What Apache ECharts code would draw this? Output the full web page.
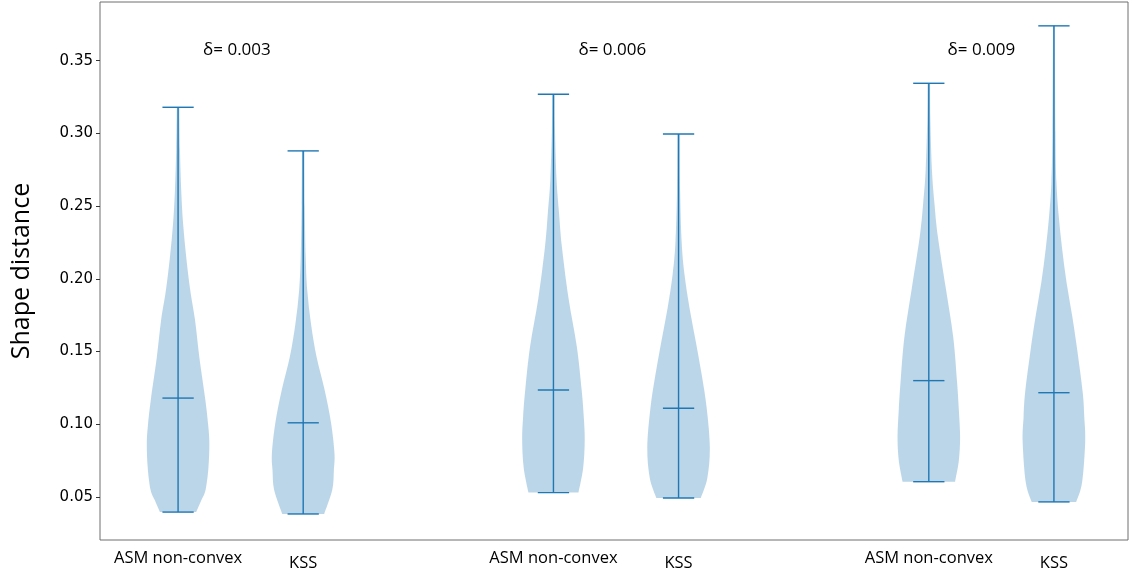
<!DOCTYPE html>
<html>
<head>
<meta charset="utf-8">
<script src="https://cdn.jsdelivr.net/npm/echarts@6/dist/echarts.min.js"></script>
<style>
  html, body { margin: 0; padding: 0; background: #fff; }
  #main { width: 1133px; height: 574px; }
</style>
</head>
<body>
<div id="main"></div>
<script>
// violin positions and labels
const positions = [1, 2, 4, 5, 7, 8]
const groupNames = ["ASM non-convex", "KSS", "ASM non-convex", "KSS", "ASM non-convex", "KSS"]
const mins = [0.0396, 0.0383, 0.053, 0.0493, 0.0605, 0.0466]
const maxs = [0.318, 0.288, 0.327, 0.2996, 0.3345, 0.374]
const medians = [0.118, 0.101, 0.1236, 0.111, 0.130, 0.1217]

// density profiles: value levels and relative half widths
const v1Y = [0.0396, 0.048, 0.055, 0.07, 0.087, 0.10, 0.117, 0.146, 0.172, 0.192, 0.215, 0.238, 0.261, 0.289, 0.318]
const v1W = [0.58, 0.75, 0.88, 0.97, 1.0, 0.96, 0.87, 0.68, 0.54, 0.39, 0.26, 0.16, 0.10, 0.06, 0.04]
const v2Y = [0.0383, 0.055, 0.068, 0.080, 0.101, 0.124, 0.146, 0.169, 0.192, 0.215, 0.25, 0.288]
const v2W = [0.67, 0.93, 0.98, 1.0, 0.89, 0.68, 0.43, 0.25, 0.13, 0.08, 0.05, 0.04]
const v3Y = [0.053, 0.07, 0.089, 0.105, 0.124, 0.153, 0.187, 0.222, 0.245, 0.268, 0.302, 0.327]
const v3W = [0.8, 0.95, 1.0, 0.97, 0.9, 0.75, 0.48, 0.27, 0.18, 0.1, 0.05, 0.04]
const v4Y = [0.0493, 0.063, 0.084, 0.111, 0.134, 0.157, 0.18, 0.203, 0.225, 0.26, 0.2996]
const v4W = [0.71, 0.92, 1.0, 0.9, 0.74, 0.55, 0.35, 0.19, 0.1, 0.05, 0.04]
const v5Y = [0.0605, 0.075, 0.091, 0.110, 0.130, 0.16, 0.194, 0.229, 0.252, 0.275, 0.309, 0.3345]
const v5W = [0.84, 0.96, 1.0, 0.96, 0.9, 0.78, 0.54, 0.29, 0.18, 0.1, 0.05, 0.04]
const v6Y = [0.0466, 0.06, 0.088, 0.105, 0.122, 0.152, 0.175, 0.198, 0.221, 0.244, 0.267, 0.30, 0.374]
const v6W = [0.71, 0.9, 1.0, 0.97, 0.92, 0.74, 0.58, 0.40, 0.26, 0.15, 0.08, 0.05, 0.03]
const profilesY = [v1Y, v2Y, v3Y, v4Y, v5Y, v6Y]
const profilesW = [v1W, v2W, v3W, v4W, v5W, v6W]

// delta annotations
const deltaX = [1.2, 4.2, 7.15]
const deltaY = [0.357, 0.357, 0.357]
const deltaLabels = ["δ= 0.003", "δ= 0.006", "δ= 0.009"]

const yTicks = [0.05, 0.10, 0.15, 0.20, 0.25, 0.30, 0.35]

const blue = "#1f77b4"
const halfWidth = 0.25
const capHalf = 0.125

// catmull-rom through pixel points -> bezier path segments
function smoothSide(pts, start) {
  let d = start ? "M" + pts[0][0] + "," + pts[0][1] : "L" + pts[0][0] + "," + pts[0][1]
  for (let k = 0; k < pts.length - 1; k++) {
    let p0 = pts[k - 1] || pts[k]
    let p1 = pts[k]
    let p2 = pts[k + 1]
    let p3 = pts[k + 2] || p2
    let c1 = [p1[0] + (p2[0] - p0[0]) / 6, p1[1] + (p2[1] - p0[1]) / 6]
    let c2 = [p2[0] - (p3[0] - p1[0]) / 6, p2[1] - (p3[1] - p1[1]) / 6]
    d += "C" + c1[0] + "," + c1[1] + " " + c2[0] + "," + c2[1] + " " + p2[0] + "," + p2[1]
  }
  return d
}

let chart = echarts.init(document.getElementById("main"))

chart.setOption({
  animation: false,
  grid: {
    left: 100,
    right: 5,
    top: 2,
    bottom: 34,
    outerBoundsMode: "none",
    containLabel: false,
    show: true,
    borderColor: "#6e6e6e",
    borderWidth: 1
  },
  xAxis: {
    type: "value",
    min: 0.376,
    max: 8.592,
    splitLine: { show: false },
    axisLine: { show: false },
    axisTick: { show: false },
    axisLabel: {
      customValues: positions,
      formatter: (v) => {
        let i = positions.indexOf(v)
        return i % 2 === 0 ? "{a|" + groupNames[i] + "}" : "{b|" + groupNames[i] + "}"
      },
      margin: 10,
      rich: {
        a: { fontFamily: "Open Sans", fontSize: 16.5, color: "#000" },
        b: { fontFamily: "Open Sans", fontSize: 16.5, color: "#000", padding: [5, 0, 0, 0] }
      }
    }
  },
  yAxis: {
    type: "value",
    min: 0.0204,
    max: 0.3904,
    name: "Shape distance",
    nameLocation: "middle",
    nameGap: 66,
    nameTextStyle: { fontFamily: "Open Sans", fontSize: 25, color: "#000" },
    splitLine: { show: false },
    axisLine: { show: false },
    axisTick: {
      show: true,
      customValues: yTicks,
      length: 4,
      lineStyle: { color: "#333" }
    },
    axisLabel: {
      customValues: yTicks,
      formatter: (v) => v.toFixed(2),
      fontFamily: "DejaVu Sans",
      fontSize: 15,
      color: "#000",
      margin: 7
    }
  },
  series: [
    {
      type: "custom",
      renderItem: (params, api) => {
        let i = params.dataIndex
        let x = positions[i]
        let ys = profilesY[i]
        let ws = profilesW[i]
        let left = [], right = []
        for (let k = 0; k < ys.length; k++) left.push(api.coord([x - ws[k] * halfWidth, ys[k]]))
        for (let k = ys.length - 1; k >= 0; k--) right.push(api.coord([x + ws[k] * halfWidth, ys[k]]))
        let d = smoothSide(left, true) + smoothSide(right, false) + "Z"
        let line = (a, b) => ({
          type: "line",
          shape: { x1: a[0], y1: a[1], x2: b[0], y2: b[1] },
          style: { stroke: blue, lineWidth: 1.4 }
        })
        return {
          type: "group",
          children: [
            {
              type: "path",
              shape: { pathData: d },
              style: { fill: "rgba(31,119,180,0.3)", stroke: "none" }
            },
            line(api.coord([x, mins[i]]), api.coord([x, maxs[i]])),
            line(api.coord([x - capHalf, mins[i]]), api.coord([x + capHalf, mins[i]])),
            line(api.coord([x - capHalf, maxs[i]]), api.coord([x + capHalf, maxs[i]])),
            line(api.coord([x - capHalf, medians[i]]), api.coord([x + capHalf, medians[i]]))
          ]
        }
      },
      data: positions.map((p, i) => [p, medians[i]])
    },
    {
      type: "custom",
      renderItem: (params, api) => {
        let i = params.dataIndex
        let p = api.coord([deltaX[i], deltaY[i]])
        return {
          type: "text",
          x: p[0],
          y: p[1],
          style: {
            text: deltaLabels[i],
            fontFamily: "Open Sans",
            fontSize: 17,
            fill: "#000",
            align: "left",
            verticalAlign: "middle"
          }
        }
      },
      data: deltaX.map((x, i) => [x, deltaY[i]])
    }
  ]
})
</script>
</body>
</html>
